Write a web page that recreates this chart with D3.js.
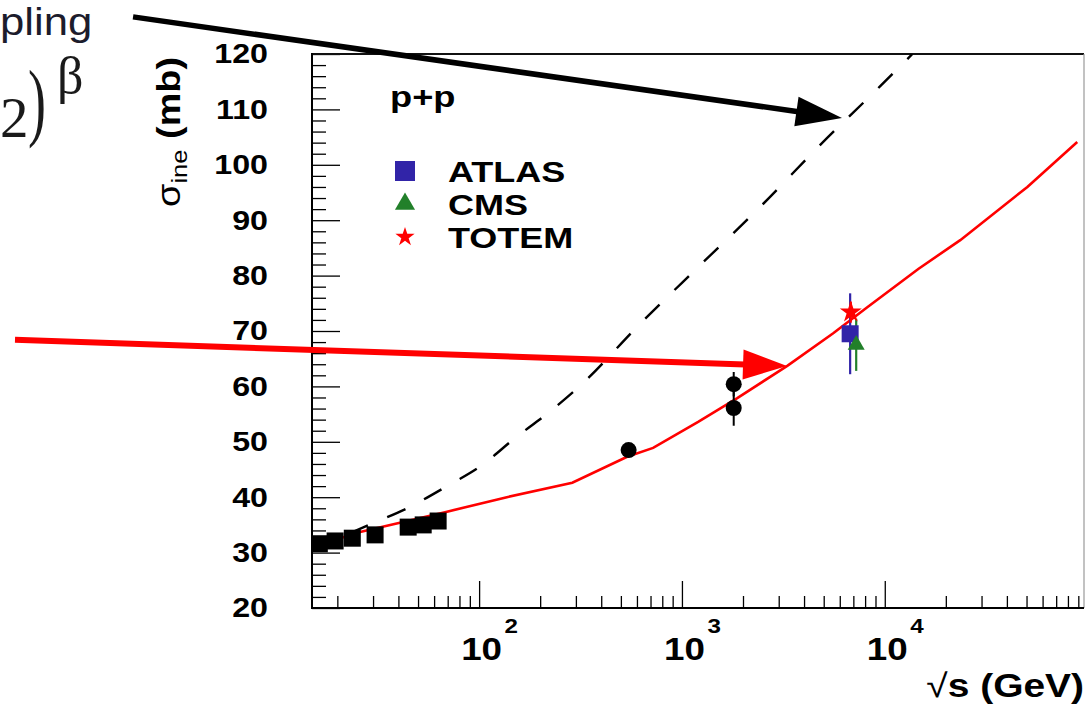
<!DOCTYPE html>
<html>
<head>
<meta charset="utf-8">
<script src="https://cdn.jsdelivr.net/npm/d3@7"></script>
<style>
  html, body { margin: 0; padding: 0; background: #fff; }
  svg { display: block; }
</style>
</head>
<body>
<script>
// ---------------- DATA ----------------
// Low-energy pp data (black squares): sqrt(s) GeV, sigma_inel mb
const isrX = [16.3, 19.5, 23.7, 30.7, 44.7, 53.0, 62.8];
const isrY = [31.6, 32.1, 32.6, 33.2, 34.6, 35.0, 35.7];
// p-pbar collider data (black circles)
const colX = [546, 1800, 1800];
const colY = [48.5, 60.4, 56.1];
const colErr = [0.8, 2.2, 3.2];
// LHC points
const expNames = ["ATLAS", "CMS", "TOTEM"];
const expX = [6750, 7230, 6800];
const expY = [69.5, 67.5, 73.4];
const expErr = [7.3, 4.7, 1.9];
// Model curve (red, solid)
const redX = [15, 25.9, 67.9, 137, 288, 537, 721, 1202, 1874, 3306, 5570, 8200, 14630, 23560, 50470, 88900];
const redY = [31.0, 33.7, 37.3, 40.0, 42.6, 47.3, 48.9, 53.6, 57.9, 63.7, 69.6, 74.3, 81.2, 86.4, 96.0, 104.1];
// Power-law curve (black, dashed)
const dashX = [15, 28.6, 44.7, 69.5, 103.5, 150.6, 218.9, 314.6, 622, 1231, 2460, 4808, 9500, 13680];
const dashY = [30.5, 35.0, 38.1, 42.0, 45.8, 50.7, 55.2, 60.1, 71.3, 81.9, 92.6, 103.6, 114.2, 120.0];
// Axis ticks
const yTicks = [20, 30, 40, 50, 60, 70, 80, 90, 100, 110, 120];
const xMajorTicks = [100, 1000, 10000];
const xTickExp = ["2", "3", "4"];
// Annotation arrows (data coordinates: [sqrt(s), sigma])
const blackArrow = [[1.967, 126.7], [6152, 108.45]];
const redArrow = [[0.515, 68.4], [3297, 63.7]];

// ---------------- LAYOUT ----------------
const W = 1086, H = 707;
const L = 312, R = 1084, T = 54, B = 608;
const SX = 1.15; // horizontal text stretch

const svg = d3.select("body").append("svg").attr("width", W).attr("height", H);
svg.append("rect").attr("width", W).attr("height", H).attr("fill", "#fff");

const x = d3.scaleLog().domain([15, 96000]).range([L, R]);
const y = d3.scaleLinear().domain([20, 120]).range([B, T]);

const FONT = "'Liberation Sans', Arial, Helvetica, sans-serif";
const SERIF = "'Liberation Serif', 'Times New Roman', serif";

// ---------------- AXES ----------------
const yMinor = d3.range(20, 121, 2).filter(v => v % 10 !== 0);
const gyMinor = svg.append("g").attr("transform", `translate(${L},0)`)
  .call(d3.axisLeft(y).tickValues(yMinor).tickSize(-14).tickFormat(""));
gyMinor.select(".domain").remove();

const gy = svg.append("g").attr("transform", `translate(${L},0)`)
  .call(d3.axisLeft(y).tickValues(yTicks).tickSize(-28).tickPadding(44).tickFormat(d3.format("d")));
gy.select(".domain").remove();
gy.selectAll("text")
  .attr("x", -44 / SX)
  .attr("transform", `scale(${SX},1)`)
  .attr("font-family", FONT).attr("font-weight", "bold").attr("font-size", 28).attr("fill", "#000");

const xMinor = [];
[10, 100, 1000, 10000].forEach(dec => { for (let k = 2; k <= 9; k++) { const v = dec * k; if (v >= 15 && v <= 96000) xMinor.push(v); } });
const gxMinor = svg.append("g").attr("transform", `translate(0,${B})`)
  .call(d3.axisBottom(x).tickValues(xMinor).tickSize(-12).tickFormat(""));
gxMinor.select(".domain").remove();

const gx = svg.append("g").attr("transform", `translate(0,${B})`)
  .call(d3.axisBottom(x).tickValues(xMajorTicks).tickSize(-27).tickFormat(""));
gx.select(".domain").remove();
gx.selectAll(".tick").each(function(d, i) {
  const t = d3.select(this);
  t.select("text").remove();
  t.append("g").attr("transform", `translate(2,52) scale(${SX},1)`)
    .append("text").attr("text-anchor", "middle")
    .attr("font-family", FONT).attr("font-weight", "bold").attr("font-size", 32).attr("fill", "#000")
    .text("10");
  t.append("g").attr("transform", `translate(25,25) scale(${SX},1)`)
    .append("text").attr("text-anchor", "start")
    .attr("font-family", FONT).attr("font-weight", "bold").attr("font-size", 21).attr("fill", "#000")
    .text(xTickExp[i]);
});
svg.selectAll(".tick line").attr("stroke", "#000").attr("stroke-width", 1.3);

// Frame
svg.append("line").attr("x1", L).attr("x2", R).attr("y1", T).attr("y2", T).attr("stroke", "#111").attr("stroke-width", 2);
svg.append("line").attr("x1", R).attr("x2", R).attr("y1", T).attr("y2", B).attr("stroke", "#999").attr("stroke-width", 1.2);
svg.append("line").attr("x1", L).attr("x2", L).attr("y1", T - 1).attr("y2", B + 1).attr("stroke", "#000").attr("stroke-width", 2);
svg.append("line").attr("x1", L - 1).attr("x2", R).attr("y1", B).attr("y2", B).attr("stroke", "#000").attr("stroke-width", 2);

// Axis titles
const xt = svg.append("g").attr("transform", `translate(${R},697) scale(1.18,1)`)
  .append("text").attr("text-anchor", "end")
  .attr("font-family", FONT).attr("font-size", 33).attr("fill", "#000");
xt.append("tspan").attr("font-weight", "normal").text("\u221A");
xt.append("tspan").attr("font-weight", "bold").text("s (GeV)");

const yt = svg.append("g").attr("transform", `translate(180,57) rotate(-90) scale(1.22,1.05)`)
  .append("text").attr("text-anchor", "end")
  .attr("font-family", FONT).attr("font-size", 31).attr("fill", "#000");
yt.append("tspan").attr("font-weight", "normal").text("\u03C3");
yt.append("tspan").attr("font-weight", "normal").attr("font-size", 21).attr("dy", 7).text("ine");
yt.append("tspan").attr("font-weight", "bold").attr("dy", -7).text(" (mb)");

// ---------------- CURVES ----------------
svg.append("clipPath").attr("id", "plotclip").append("rect")
  .attr("x", L).attr("y", T).attr("width", R - L).attr("height", B - T);
const plot = svg.append("g").attr("clip-path", "url(#plotclip)");

plot.append("path").datum(dashX.map((v, i) => [v, dashY[i]]))
  .attr("d", d3.line().x(d => x(d[0])).y(d => y(d[1])).curve(d3.curveMonotoneX))
  .attr("fill", "none").attr("stroke", "#000").attr("stroke-width", 2.4).attr("stroke-dasharray", "20,21");
plot.append("path").datum(redX.map((v, i) => [v, redY[i]]))
  .attr("d", d3.line().x(d => x(d[0])).y(d => y(d[1])).curve(d3.curveLinear))
  .attr("fill", "none").attr("stroke", "#ff0000").attr("stroke-width", 2.6);

// ---------------- MARKERS ----------------
const SQ = 17;
plot.selectAll(".isr").data(isrX.map((v, i) => [v, isrY[i]])).enter().append("rect")
  .attr("x", d => x(d[0]) - SQ / 2).attr("y", d => y(d[1]) - SQ / 2)
  .attr("width", SQ).attr("height", SQ).attr("fill", "#000");

const colData = colX.map((v, i) => ({ x: v, y: colY[i], e: colErr[i] }));
plot.selectAll(".colerr").data(colData).enter().append("line")
  .attr("x1", d => x(d.x)).attr("x2", d => x(d.x))
  .attr("y1", d => y(d.y - d.e)).attr("y2", d => y(d.y + d.e))
  .attr("stroke", "#000").attr("stroke-width", 2);
plot.selectAll(".col").data(colData).enter().append("circle")
  .attr("cx", d => x(d.x)).attr("cy", d => y(d.y)).attr("r", 8).attr("fill", "#000");

const expColors = ["#3124a8", "#22802a", "#ff0000"];
const expSymbols = [
  d3.symbol().type(d3.symbolSquare).size(289),
  d3.symbol().type(d3.symbolTriangle).size(125),
  d3.symbol().type(d3.symbolStar).size(150)
];
const legSymbols = [
  d3.symbol().type(d3.symbolSquare).size(400),
  d3.symbol().type(d3.symbolTriangle).size(175),
  d3.symbol().type(d3.symbolStar).size(115)
];
expNames.forEach((n, i) => {
  plot.append("line")
    .attr("x1", x(expX[i])).attr("x2", x(expX[i]))
    .attr("y1", y(expY[i] - expErr[i])).attr("y2", y(expY[i] + expErr[i]))
    .attr("stroke", expColors[i]).attr("stroke-width", 2.2);
});
expNames.forEach((n, i) => {
  plot.append("path").attr("d", expSymbols[i]())
    .attr("transform", `translate(${x(expX[i])},${y(expY[i])})`)
    .attr("fill", expColors[i]);
});

// ---------------- LEGEND ----------------
svg.append("g").attr("transform", `translate(390,107) scale(1.25,1)`)
  .append("text").attr("font-family", FONT).attr("font-weight", "bold").attr("font-size", 29).attr("fill", "#000")
  .text("p+p");
const legY = [171, 204, 237];
expNames.forEach((n, i) => {
  svg.append("path").attr("d", legSymbols[i]())
    .attr("transform", `translate(405,${legY[i]})`).attr("fill", expColors[i]);
  svg.append("g").attr("transform", `translate(448,${legY[i] + 11}) scale(1.2,1)`)
    .append("text").attr("font-family", FONT).attr("font-weight", "bold").attr("font-size", 30).attr("fill", "#000")
    .text(n);
});

// ---------------- SLIDE OVERLAY TEXT ----------------
svg.append("g").attr("transform", `translate(0,35) scale(1.15,1)`)
  .append("text").attr("font-family", FONT).attr("font-size", 38).attr("fill", "#1c1c2c")
  .text("pling");
svg.append("text").attr("x", 0).attr("y", 137).attr("text-anchor", "start")
  .attr("font-family", SERIF).attr("font-size", 57).attr("fill", "#1a1a1a").text("2");
svg.append("g").attr("transform", `translate(37,130) scale(0.9,1.45)`)
  .append("text").attr("text-anchor", "middle")
  .attr("font-family", SERIF).attr("font-size", 60).attr("fill", "#1a1a1a").text(")");
svg.append("text").attr("x", 57).attr("y", 93)
  .attr("font-family", SERIF).attr("font-size", 52).attr("fill", "#1a1a1a").text("\u03B2");

// ---------------- ARROWS ----------------
function arrow(pts, color, width, headLen, headHalf) {
  const p0 = [x(pts[0][0]), y(pts[0][1])];
  const p1 = [x(pts[1][0]), y(pts[1][1])];
  const dx = p1[0] - p0[0], dy = p1[1] - p0[1];
  const len = Math.hypot(dx, dy);
  const ux = dx / len, uy = dy / len;
  const nx = -uy, ny = ux;
  const bx = p1[0] - ux * headLen, by = p1[1] - uy * headLen;
  svg.append("line").attr("x1", p0[0]).attr("y1", p0[1]).attr("x2", bx + ux * 2).attr("y2", by + uy * 2)
    .attr("stroke", color).attr("stroke-width", width);
  svg.append("polygon")
    .attr("points", [[p1[0], p1[1]], [bx + nx * headHalf, by + ny * headHalf], [bx - nx * headHalf, by - ny * headHalf]].map(p => p.join(",")).join(" "))
    .attr("fill", color);
}
arrow(blackArrow, "#000", 5.5, 46, 15);
arrow(redArrow, "#ff0000", 6, 44, 15);
</script>
</body>
</html>
